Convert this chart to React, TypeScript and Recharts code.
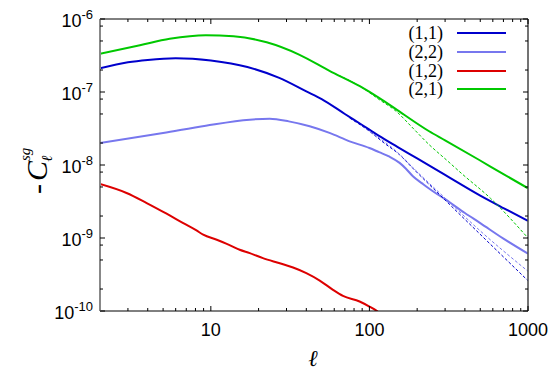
import React from "react";
import { LineChart, Line, XAxis, YAxis, Legend, Label } from "recharts";

// multipole values and -C_l^{sg} for each (i,j) pair
const ell11 = [2, 3, 4, 6, 10, 17, 27, 40, 50, 70, 87, 100, 115, 150, 200, 300, 500, 700, 1000];
const cl11 = [2.11e-7, 2.55e-7, 2.75e-7, 2.9e-7, 2.7e-7, 2.2e-7, 1.56e-7, 1.02e-7, 8.0e-8, 5.0e-8, 3.7e-8, 3.05e-8, 2.5e-8, 1.77e-8, 1.23e-8, 7.3e-9, 3.8e-9, 2.57e-9, 1.72e-9];

const ell22 = [2, 5, 9.3, 17.6, 23.5, 31, 42, 56, 75, 100, 115, 134, 155, 170, 188, 215, 250, 300, 400, 500, 700, 1000];
const cl22 = [2.0e-8, 2.75e-8, 3.46e-8, 4.18e-8, 4.3e-8, 3.96e-8, 3.39e-8, 2.75e-8, 2.11e-8, 1.71e-8, 1.5e-8, 1.3e-8, 1.07e-8, 8.9e-9, 7.0e-9, 5.6e-9, 4.4e-9, 3.4e-9, 2.2e-9, 1.6e-9, 9.8e-10, 6.1e-10];

const ell12 = [2, 2.94, 3.94, 5.26, 6.7, 8.12, 8.95, 10.9, 12.6, 15.2, 17.6, 21.3, 27.2, 33, 40, 48.6, 58.9, 68.1, 86.7, 100, 110.6, 125];
const cl12 = [5.48e-9, 4.13e-9, 3.01e-9, 2.15e-9, 1.6e-9, 1.27e-9, 1.11e-9, 9.45e-10, 8.3e-10, 6.9e-10, 6.2e-10, 5.3e-10, 4.5e-10, 3.94e-10, 3.3e-10, 2.61e-10, 1.95e-10, 1.61e-10, 1.35e-10, 1.15e-10, 1.01e-10, 8e-11];

const ell21 = [2, 3.57, 5.5, 9.3, 13.9, 22.5, 36, 56, 87, 115, 150, 238, 300, 490, 700, 1000];
const cl21 = [3.33e-7, 4.37e-7, 5.35e-7, 6.0e-7, 5.8e-7, 4.8e-7, 3.26e-7, 1.95e-7, 1.2e-7, 8.3e-8, 5.65e-8, 2.9e-8, 2.18e-8, 1.18e-8, 7.5e-9, 4.8e-9];

// thin dashed approximations
const ell11d = [75, 100, 122, 155, 188, 305, 490, 1000];
const cl11d = [4.4e-8, 2.9e-8, 2.05e-8, 1.38e-8, 9.0e-9, 3.2e-9, 1.17e-9, 2.6e-10];

const ell22d = [100, 155, 188, 305, 490, 1000];
const cl22d = [2.9e-8, 1.4e-8, 9.2e-9, 3.4e-9, 1.3e-9, 3.5e-10];

const ell21d = [60, 87, 115, 148, 188, 238, 305, 388, 580, 1000];
const cl21d = [1.8e-7, 1.2e-7, 7.9e-8, 5.4e-8, 3.2e-8, 1.9e-8, 1.18e-8, 7.4e-9, 3.5e-9, 1.0e-9];

const xTicks = [3, 4, 5, 6, 7, 8, 9, 10, 20, 30, 40, 50, 60, 70, 80, 90, 100, 200, 300, 400, 500, 600, 700, 800, 900, 1000];
const yTicks = [1e-10, 2e-10, 5e-10, 8e-10, 1e-9, 2e-9, 5e-9, 8e-9, 1e-8, 2e-8, 5e-8, 8e-8, 1e-7, 2e-7, 5e-7, 8e-7, 1e-6];

const pts = (ell: number[], cl: number[]) => ell.map((l, i) => ({ l, c: cl[i] }));

const solid = [
  { name: "(1,1)", color: "#0000cc", data: pts(ell11, cl11) },
  { name: "(2,2)", color: "#7777ee", data: pts(ell22, cl22) },
  { name: "(1,2)", color: "#dd0000", data: pts(ell12, cl12) },
  { name: "(2,1)", color: "#00c800", data: pts(ell21, cl21) },
];
const dashed = [
  { color: "#0000cc", data: pts(ell11d, cl11d) },
  { color: "#7777ee", data: pts(ell22d, cl22d) },
  { color: "#00c800", data: pts(ell21d, cl21d) },
];

const FONT = "Liberation Sans, Arial, sans-serif";
const SERIF = "Liberation Serif, Times New Roman, serif";

const isMajor = (v: number) => {
  const e = Math.round(Math.log10(v));
  return Math.abs(v / Math.pow(10, e) - 1) < 1e-6;
};

const BottomTick = ({ x, y, payload }: any) => {
  const major = isMajor(payload.value);
  return (
    <g>
      <line x1={x} x2={x} y1={y} y2={y - (major ? 5 : 3)} stroke="#000" />
      {major && (
        <text x={x} y={y + 25} textAnchor="middle" fontFamily={FONT} fontSize={18} fill="#000">
          {payload.value}
        </text>
      )}
    </g>
  );
};

const TopTick = ({ x, y, payload }: any) => {
  const major = isMajor(payload.value);
  return <line x1={x} x2={x} y1={y} y2={y + (major ? 5 : 3)} stroke="#000" />;
};

const LeftTick = ({ x, y, payload }: any) => {
  const major = isMajor(payload.value);
  const e = Math.round(Math.log10(payload.value));
  return (
    <g>
      <line x1={x} x2={x + (major ? 5 : 3)} y1={y} y2={y} stroke="#000" />
      {major && (
        <text x={x - 7} y={y + 8} textAnchor="end" fontFamily={FONT} fontSize={18} fill="#000">
          10
          <tspan dy={-8} fontSize={13}>
            {e}
          </tspan>
        </text>
      )}
    </g>
  );
};

const RightTick = ({ x, y, payload }: any) => {
  const major = isMajor(payload.value);
  return <line x1={x} x2={x - (major ? 5 : 3)} y1={y} y2={y} stroke="#000" />;
};

const LegendBox = () => (
  <div style={{ width: 120 }}>
    {solid.map((s) => (
      <div key={s.name} style={{ display: "flex", alignItems: "center", height: 18.7 }}>
        <span
          style={{ width: 43, textAlign: "right", fontFamily: SERIF, fontSize: 18, lineHeight: "18px" }}
        >
          {s.name}
        </span>
        <svg width={63} height={6}>
          <line x1={14} x2={63} y1={3} y2={3} stroke={s.color} strokeWidth={2} />
        </svg>
      </div>
    ))}
  </div>
);

export default function App() {
  return (
    <div style={{ position: "absolute", left: 0, top: 0, background: "#fff" }}>
      <LineChart width={556} height={389} margin={{ top: 18, right: 27, bottom: 77, left: 0 }}>
        <XAxis
          dataKey="l"
          type="number"
          scale="log"
          domain={[2, 1000]}
          allowDataOverflow
          ticks={xTicks}
          tick={BottomTick}
          tickLine={false}
          tickSize={0}
          tickMargin={0}
          height={1}
          interval={0}
          axisLine={{ stroke: "#000" }}
        >
          <Label
            content={() => (
              <text x={313} y={366} textAnchor="middle" fontFamily={SERIF} fontStyle="italic" fontSize={23}>
                ℓ
              </text>
            )}
          />
        </XAxis>
        <XAxis
          xAxisId="top"
          orientation="top"
          dataKey="l"
          type="number"
          scale="log"
          domain={[2, 1000]}
          allowDataOverflow
          ticks={xTicks}
          tick={TopTick}
          tickLine={false}
          tickSize={0}
          tickMargin={0}
          height={1}
          interval={0}
          axisLine={{ stroke: "#000" }}
        />
        <YAxis
          dataKey="c"
          type="number"
          scale="log"
          domain={[1e-10, 1e-6]}
          allowDataOverflow
          ticks={yTicks}
          tick={LeftTick}
          tickLine={false}
          tickSize={0}
          tickMargin={0}
          width={100}
          interval={0}
          axisLine={{ stroke: "#888", strokeWidth: 2 }}
        >
          <Label
            content={() => (
              <text transform="translate(47,194) rotate(-90)" fontFamily={SERIF} fontSize={30} fill="#000">
                <tspan>-</tspan>
                <tspan dx={3} fontStyle="italic">C</tspan>
                <tspan fontStyle="italic" fontSize={15} dy={-17}>sg</tspan>
                <tspan fontStyle="italic" fontSize={15} dx={-14} dy={22}>ℓ</tspan>
              </text>
            )}
          />
        </YAxis>
        <YAxis
          yAxisId="right"
          orientation="right"
          dataKey="c"
          type="number"
          scale="log"
          domain={[1e-10, 1e-6]}
          allowDataOverflow
          ticks={yTicks}
          tick={RightTick}
          tickLine={false}
          tickSize={0}
          tickMargin={0}
          width={1}
          interval={0}
          axisLine={{ stroke: "#444", strokeWidth: 1.5 }}
        />
        <Legend
          layout="horizontal"
          verticalAlign="middle"
          wrapperStyle={{ left: 400, top: 24, width: 130 }}
          content={LegendBox}
        />
        {solid.map((s) => (
          <Line
            key={s.name}
            data={s.data}
            dataKey="c"
            name={s.name}
            type="monotone"
            stroke={s.color}
            strokeWidth={2}
            dot={false}
            activeDot={false}
            isAnimationActive={false}
          />
        ))}
        {dashed.map((s, i) => (
          <Line
            key={"d" + i}
            data={s.data}
            dataKey="c"
            type="monotone"
            stroke={s.color}
            strokeWidth={1}
            strokeDasharray="3 2"
            dot={false}
            activeDot={false}
            legendType="none"
            isAnimationActive={false}
          />
        ))}
      </LineChart>
    </div>
  );
}
